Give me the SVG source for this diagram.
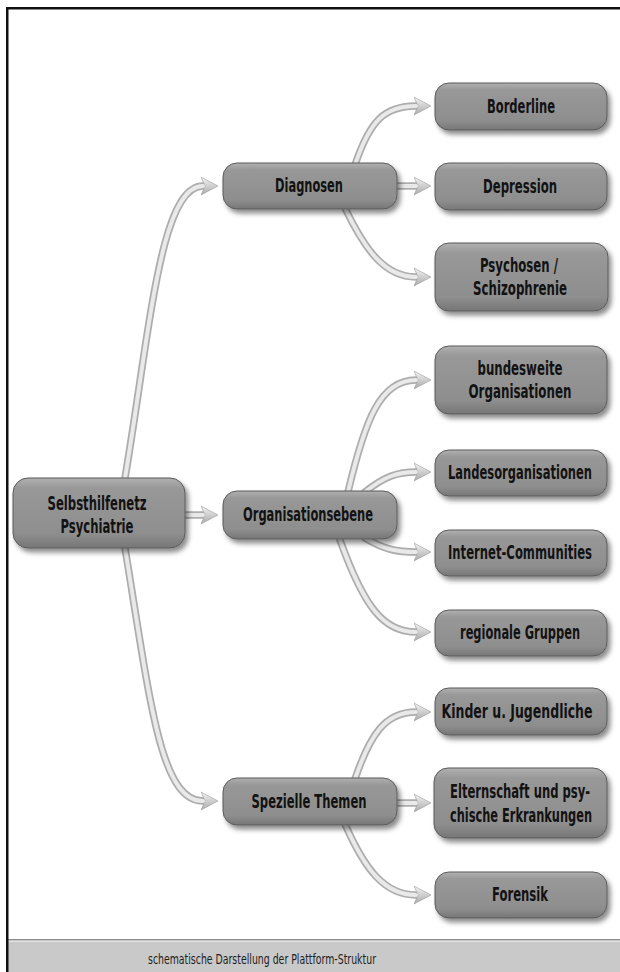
<svg xmlns="http://www.w3.org/2000/svg" width="620" height="972" viewBox="0 0 620 972">
<defs>
<linearGradient id="boxg" x1="0" y1="0" x2="0" y2="1">
<stop offset="0" stop-color="#b0b0b0"/>
<stop offset="0.15" stop-color="#989898"/>
<stop offset="0.8" stop-color="#8e8e8e"/>
<stop offset="1" stop-color="#767676"/>
</linearGradient>
<linearGradient id="arrg" x1="0" y1="0" x2="0" y2="1">
<stop offset="0" stop-color="#f4f4f4"/>
<stop offset="1" stop-color="#aaaaaa"/>
</linearGradient>
<filter id="sh" x="-10%" y="-20%" width="125%" height="150%">
<feDropShadow dx="3" dy="4" stdDeviation="2.5" flood-color="#000" flood-opacity="0.45"/>
</filter>
<marker id="arr" markerUnits="userSpaceOnUse" markerWidth="20" markerHeight="22" refX="2" refY="11" orient="auto" viewBox="0 0 20 22">
<path d="M0,2 L17,11 L0,20 L4,11 Z" fill="url(#arrg)" stroke="#9c9c9c" stroke-width="0.6"/>
</marker>
</defs>
<style>
.box{fill:url(#boxg);stroke:#5a5a5a;stroke-width:1;filter:url(#sh)}
.lbl{font-family:"DejaVu Sans Condensed","DejaVu Sans",sans-serif;font-stretch:condensed;font-weight:bold;font-size:14.6px;fill:#121212;text-anchor:middle}
.out{fill:none;stroke:#adadad;stroke-width:7.5;stroke-linecap:round}
.in{fill:none;stroke:#e9e9e9;stroke-width:4;stroke-linecap:round}
.cap{font-family:"DejaVu Sans Condensed","DejaVu Sans",sans-serif;font-size:14.5px;fill:#1e1e1e;text-anchor:middle}
</style>
<rect x="0" y="0" width="620" height="972" fill="#fff"/>
<g id="frame">
<rect x="8" y="939" width="612" height="33" fill="#c9c9c9"/>
<rect x="8" y="939" width="612" height="1.5" fill="#8c8c8c"/>
<rect x="8" y="940.5" width="612" height="1.5" fill="#e2e2e2"/>
<rect x="6" y="7" width="614" height="2.5" fill="#111"/>
<rect x="6" y="7" width="2.5" height="965" fill="#111"/>
<text class="cap" x="262" y="964" textLength="228" lengthAdjust="spacingAndGlyphs">schematische Darstellung der Plattform-Struktur</text>
</g>
<g id="connectors">
<g>
<path class="out" d="M125,478 C150,330 160,186 203,186" marker-end="url(#arr)"/>
<path class="out" d="M185,515 L203,515" marker-end="url(#arr)"/>
<path class="out" d="M125,548 C150,700 160,801 203,801" marker-end="url(#arr)"/>
<path class="out" d="M355,165 C370,120 385,106 416,106" marker-end="url(#arr)"/>
<path class="out" d="M397,186 L416,186" marker-end="url(#arr)"/>
<path class="out" d="M345,208 C365,250 385,277 416,277" marker-end="url(#arr)"/>
<path class="out" d="M348,492 C365,420 380,380 416,380" marker-end="url(#arr)"/>
<path class="out" d="M365,492 C385,476 398,472 416,472" marker-end="url(#arr)"/>
<path class="out" d="M365,538 C385,550 398,552 416,552" marker-end="url(#arr)"/>
<path class="out" d="M340,540 C365,610 385,632 416,632" marker-end="url(#arr)"/>
<path class="out" d="M355,779 C370,735 385,712 416,712" marker-end="url(#arr)"/>
<path class="out" d="M397,803 L416,803" marker-end="url(#arr)"/>
<path class="out" d="M345,824 C365,870 385,895 416,895" marker-end="url(#arr)"/>
</g>
<g>
<path class="in" d="M125,478 C150,330 160,186 203,186"/>
<path class="in" d="M185,515 L203,515"/>
<path class="in" d="M125,548 C150,700 160,801 203,801"/>
<path class="in" d="M355,165 C370,120 385,106 416,106"/>
<path class="in" d="M397,186 L416,186"/>
<path class="in" d="M345,208 C365,250 385,277 416,277"/>
<path class="in" d="M348,492 C365,420 380,380 416,380"/>
<path class="in" d="M365,492 C385,476 398,472 416,472"/>
<path class="in" d="M365,538 C385,550 398,552 416,552"/>
<path class="in" d="M340,540 C365,610 385,632 416,632"/>
<path class="in" d="M355,779 C370,735 385,712 416,712"/>
<path class="in" d="M397,803 L416,803"/>
<path class="in" d="M345,824 C365,870 385,895 416,895"/>
</g>
</g>
<g id="root">
<rect class="box" x="13" y="478" width="172" height="70" rx="15"/>
<text class="lbl" transform="translate(97,510) scale(1,1.3)" textLength="99" lengthAdjust="spacingAndGlyphs">Selbsthilfenetz</text>
<text class="lbl" transform="translate(97,533) scale(1,1.3)" textLength="73" lengthAdjust="spacingAndGlyphs">Psychiatrie</text>
</g>
<g id="diagnosen">
<rect class="box" x="223" y="163" width="174" height="46" rx="14"/>
<text class="lbl" transform="translate(309,192) scale(1,1.3)" textLength="68" lengthAdjust="spacingAndGlyphs">Diagnosen</text>
</g>
<g id="organisationsebene">
<rect class="box" x="223" y="491" width="174" height="48" rx="14"/>
<text class="lbl" transform="translate(308,521) scale(1,1.3)" textLength="130" lengthAdjust="spacingAndGlyphs">Organisationsebene</text>
</g>
<g id="spezielle">
<rect class="box" x="223" y="778" width="174" height="47" rx="14"/>
<text class="lbl" transform="translate(309,808) scale(1,1.3)" textLength="115" lengthAdjust="spacingAndGlyphs">Spezielle Themen</text>
</g>
<g id="borderline">
<rect class="box" x="435" y="83" width="172" height="47" rx="14"/>
<text class="lbl" transform="translate(521,113) scale(1,1.3)" textLength="68" lengthAdjust="spacingAndGlyphs">Borderline</text>
</g>
<g id="depression">
<rect class="box" x="435" y="163" width="172" height="47" rx="14"/>
<text class="lbl" transform="translate(520,193) scale(1,1.3)" textLength="74" lengthAdjust="spacingAndGlyphs">Depression</text>
</g>
<g id="psychosen">
<rect class="box" x="435" y="243" width="173" height="68" rx="14"/>
<text class="lbl" transform="translate(519,272) scale(1,1.3)" textLength="78" lengthAdjust="spacingAndGlyphs">Psychosen /</text>
<text class="lbl" transform="translate(520,295) scale(1,1.3)" textLength="94" lengthAdjust="spacingAndGlyphs">Schizophrenie</text>
</g>
<g id="bundesweite">
<rect class="box" x="435" y="346" width="172" height="68" rx="14"/>
<text class="lbl" transform="translate(520,375) scale(1,1.3)" textLength="85" lengthAdjust="spacingAndGlyphs">bundesweite</text>
<text class="lbl" transform="translate(520,398) scale(1,1.3)" textLength="103" lengthAdjust="spacingAndGlyphs">Organisationen</text>
</g>
<g id="landes">
<rect class="box" x="435" y="450" width="172" height="46" rx="14"/>
<text class="lbl" transform="translate(520,479) scale(1,1.3)" textLength="144" lengthAdjust="spacingAndGlyphs">Landesorganisationen</text>
</g>
<g id="internet">
<rect class="box" x="435" y="530" width="172" height="46" rx="14"/>
<text class="lbl" transform="translate(520,559) scale(1,1.3)" textLength="144" lengthAdjust="spacingAndGlyphs">Internet-Communities</text>
</g>
<g id="regionale">
<rect class="box" x="435" y="610" width="172" height="46" rx="14"/>
<text class="lbl" transform="translate(520,639) scale(1,1.3)" textLength="120" lengthAdjust="spacingAndGlyphs">regionale Gruppen</text>
</g>
<g id="kinder">
<rect class="box" x="435" y="688" width="172" height="47" rx="14"/>
<text class="lbl" transform="translate(517,718) scale(1,1.3)" textLength="151" lengthAdjust="spacingAndGlyphs">Kinder u. Jugendliche</text>
</g>
<g id="elternschaft">
<rect class="box" x="434" y="768" width="173" height="70" rx="14"/>
<text class="lbl" transform="translate(520,798) scale(1,1.3)" textLength="140" lengthAdjust="spacingAndGlyphs">Elternschaft und psy-</text>
<text class="lbl" transform="translate(521,822) scale(1,1.3)" textLength="142" lengthAdjust="spacingAndGlyphs">chische Erkrankungen</text>
</g>
<g id="forensik">
<rect class="box" x="435" y="872" width="172" height="46" rx="14"/>
<text class="lbl" transform="translate(520,901) scale(1,1.3)" textLength="56" lengthAdjust="spacingAndGlyphs">Forensik</text>
</g>
</svg>
